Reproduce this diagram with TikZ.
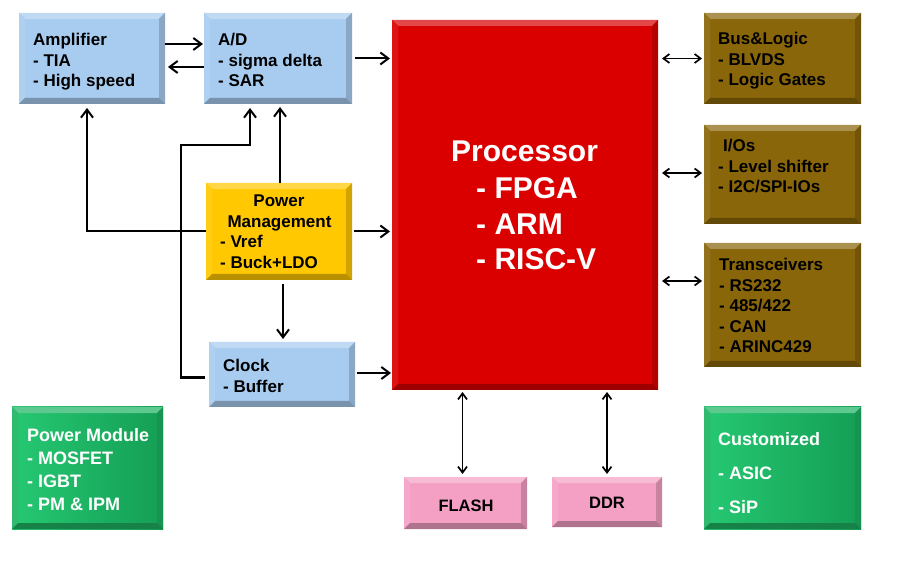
\documentclass[tikz,border=0pt]{standalone}
\usepackage{fontspec}
\setmainfont{Liberation Sans}
\usetikzlibrary{arrows.meta,calc}
\definecolor{lblue}{RGB}{168,204,240}
\definecolor{ylw}{RGB}{255,200,0}
\definecolor{prred}{RGB}{218,0,0}
\definecolor{brn}{RGB}{138,102,10}
\definecolor{grn}{RGB}{30,180,100}
\definecolor{grnL}{RGB}{38,200,115}
\definecolor{grnD}{RGB}{20,158,84}
\definecolor{pnk}{RGB}{244,160,196}
\newcommand\bev[1]{%
  \coordinate (bvNW) at (path picture bounding box.north west);
  \coordinate (bvNE) at (path picture bounding box.north east);
  \coordinate (bvSE) at (path picture bounding box.south east);
  \coordinate (bvSW) at (path picture bounding box.south west);
  \fill[#1!72!white] (bvNW) -- (bvNE) -- ([shift={(-6pt,-6pt)}]bvNE) -- ([shift={(6pt,-6pt)}]bvNW) -- cycle;
  \fill[#1!92!white] (bvNW) -- (bvSW) -- ([shift={(6pt,6pt)}]bvSW) -- ([shift={(6pt,-6pt)}]bvNW) -- cycle;
  \fill[#1!82!black] (bvNE) -- (bvSE) -- ([shift={(-6pt,6pt)}]bvSE) -- ([shift={(-6pt,-6pt)}]bvNE) -- cycle;
  \fill[#1!72!black] (bvSW) -- (bvSE) -- ([shift={(-6pt,6pt)}]bvSE) -- ([shift={(6pt,6pt)}]bvSW) -- cycle;
}
\newcommand\smallfont{\fontsize{17}{20}\selectfont\bfseries}
\newcommand\bigfont{\fontsize{30}{36}\selectfont\bfseries}
\newcommand\grnfont{\fontsize{18}{22}\selectfont\bfseries}
\newcommand\txl[6][]{\foreach \t [count=\i from 0] in {#6}{\node[lbl,#1] (#2\i) at (#3,{#4+\i*#5}) {\t};}}
\begin{document}
\begin{tikzpicture}[x=1pt,y=-1pt,
  bx/.style={fill=#1, inner sep=0pt, outer sep=0pt, anchor=north west, path picture={\bev{#1}}},
  lbl/.style={anchor=base west, inner sep=0pt, font=\smallfont},
  conn/.style={line width=2pt, -{Straight Barb[length=8pt,width=12pt]}},
  bid/.style={line width=1.7pt, {Straight Barb[length=6pt,width=9pt]}-{Straight Barb[length=6pt,width=9pt]}}]
\useasboundingbox (0,0) rectangle (898,564);
\fill[white] (0,0) rectangle (898,564);
% boxes
\node[bx=lblue, minimum width=146pt, minimum height=91pt] (amp) at (19,13) {};
\node[bx=lblue, minimum width=148pt, minimum height=91pt] (ad) at (204,13) {};
\node[bx=prred, minimum width=266pt, minimum height=370pt] (proc) at (392,20) {};
\node[bx=brn, minimum width=157pt, minimum height=91pt] (bus) at (704,13) {};
\node[bx=brn, minimum width=157pt, minimum height=99pt] (ios) at (704,125) {};
\node[bx=brn, minimum width=157pt, minimum height=124pt] (trx) at (704,243) {};
\node[bx=ylw, minimum width=146pt, minimum height=97pt] (pwr) at (206,183) {};
\node[bx=lblue, minimum width=146pt, minimum height=65pt] (clk) at (209,342) {};
\node[bx=grn, left color=grnL, right color=grnD, minimum width=151pt, minimum height=122pt] (pm) at (12,407) {};
\node[bx=pnk, minimum width=123pt, minimum height=52pt] (flash) at (404,477) {};
\node[bx=pnk, minimum width=110pt, minimum height=50pt] (ddr) at (552,477) {};
\node[bx=grn, left color=grnL, right color=grnD, minimum width=157pt, minimum height=122pt] (cust) at (704,407) {};
% texts
\txl{ampt}{33}{46}{20.5}{Amplifier,- TIA,- High speed}
\txl{adt}{218}{46}{20.5}{A/D,- sigma delta,- SAR}
\txl{bust}{718}{45}{20.5}{Bus\&Logic,- BLVDS,- Logic Gates}
\node[lbl] (iost) at (723,152) {I/Os};
\txl{iosl}{718}{172.5}{20.5}{- Level shifter,- I2C/SPI-IOs}
\txl{trxt}{719}{271}{20.5}{Transceivers,- RS232,- 485/422,- CAN,- ARINC429}
\node[lbl, anchor=base] (pwrt0) at (279,207) {Power};
\node[lbl, anchor=base] (pwrt1) at (279.5,227.5) {Management};
\txl{pwrl}{220}{248}{20.7}{- Vref,- Buck+LDO}
\txl{clkt}{223}{372}{20}{Clock,- Buffer}
\node[lbl, font=\bigfont, text=white] (proct) at (451,162) {Processor};
\txl[font=\bigfont, text=white]{procl}{476}{199}{35.5}{- FPGA,- ARM,- RISC-V}
\txl[font=\grnfont, text=white]{pmt}{27}{442}{22.7}{Power Module,- MOSFET,- IGBT,- PM \& IPM}
\txl[font=\grnfont, text=white]{custt}{718}{445}{34}{Customized,- ASIC,- SiP}
\node[lbl, anchor=base, font=\fontsize{16.5}{20}\selectfont\bfseries] (flasht) at (466,511) {FLASH};
\node[lbl, anchor=base, font=\fontsize{16.5}{20}\selectfont\bfseries] (ddrt) at (607,508) {DDR};
% connectors
\draw[conn, shorten >=1pt] ([yshift=-31pt]amp.north east) -- ([yshift=-31pt]ad.north west);
\draw[conn, shorten >=3pt] ([yshift=-54pt]ad.north west) -- ([yshift=-54pt]amp.north east);
\draw[conn, shorten <=3pt, shorten >=2pt] (ad.east) -- (ad.east -| proc.west);
\draw[bid, shorten <=4pt, shorten >=2pt] (bus.west -| proc.east) -- (bus.west);
\draw[bid, shorten <=4pt, shorten >=2pt] ([yshift=1.5pt]ios.west -| proc.east) -- ([yshift=1.5pt]ios.west);
\coordinate (trxin) at ([yshift=24pt]trx.west);
\draw[bid, shorten <=4pt, shorten >=2pt] (trxin -| proc.east) -- (trxin);
\coordinate (flin) at ([xshift=-3pt]flash.north);
\draw[bid, shorten <=2pt, shorten >=3pt] (proc.south -| flin) -- (flin);
\draw[bid, shorten <=2pt, shorten >=3pt] (proc.south -| ddr.north) -- (ddr.north);
\draw[conn, shorten <=2pt, shorten >=2pt] (pwr.east) -- (pwr.east -| proc.west);
\coordinate (pwrb) at ([xshift=4pt]pwr.south);
\draw[conn, shorten <=4pt, shorten >=3pt] (pwrb) -- (pwrb |- clk.north);
\draw[conn, shorten <=2pt, shorten >=1pt] ([yshift=1.5pt]clk.east) -- ([yshift=1.5pt]clk.east -| proc.west);
\coordinate (pwrt) at ([xshift=1pt]pwr.north);
\draw[conn, shorten >=3pt] (pwrt) -- (pwrt |- ad.south);
\coordinate (ampx) at ([xshift=-5pt]amp.south);
\draw[conn, shorten >=4pt] (pwr.west) -| (ampx);
\coordinate (k1) at (181,145);
\coordinate (clkl) at ([xshift=-4pt,yshift=-3.5pt]clk.west);
\coordinate (adx) at ([xshift=-28pt]ad.south);
\draw[conn, shorten >=4pt] (clkl) -| (k1) -| (adx);
\draw[line width=3pt] (clkl) -- (clkl -| k1);
\end{tikzpicture}
\end{document}
